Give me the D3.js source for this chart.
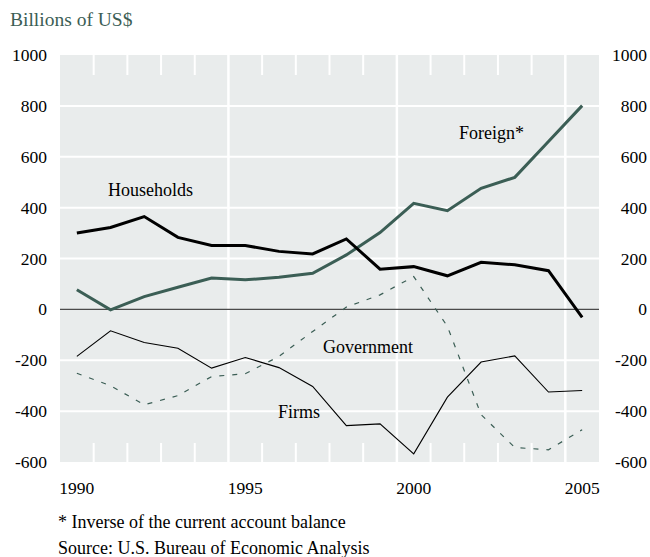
<!DOCTYPE html>
<html>
<head>
<meta charset="utf-8">
<script src="https://cdn.jsdelivr.net/npm/d3@7"></script>
<style>
	body { margin: 0; background: #fff; }
	svg text { font-family: "Liberation Serif", "Times New Roman", serif; }
</style>
</head>
<body>
<div id="chart"></div>
<script>
var years = [1990, 1991, 1992, 1993, 1994, 1995, 1996, 1997, 1998, 1999, 2000, 2001, 2002, 2003, 2004, 2005]
var households = [300, 322, 365, 283, 251, 251, 228, 218, 277, 158, 168, 132, 185, 175, 152, -31]
var foreign = [77, -2, 50, 87, 123, 116, 126, 142, 214, 302, 417, 388, 476, 519, 660, 801]
var firms = [-185, -84, -130, -153, -231, -189, -229, -303, -457, -450, -568, -345, -207, -183, -325, -319]
var government = [-251, -300, -375, -339, -264, -253, -185, -87, 9, 57, 129, -67, -414, -543, -552, -473]
var yTicks = [-600, -400, -200, 0, 200, 400, 600, 800, 1000]
var xLabels = [1990, 1995, 2000, 2005]
var gridYears = [1995, 2000, 2005]

var plot = { left: 60, right: 599, top: 55, bottom: 462 }
var green = '#3b5e55'

var xScale = d3.scaleLinear()
	.domain([1990, 2006])
	.range([plot.left, plot.right])

var yScale = d3.scaleLinear()
	.domain([-600, 1000])
	.range([plot.bottom, plot.top])

var svg = d3.select('#chart').append('svg')
	.attr('width', 650)
	.attr('height', 557)

svg.append('text')
	.attr('x', 10)
	.attr('y', 26)
	.attr('fill', green)
	.style('font-size', '19.5px')
	.text('Billions of US$')

svg.append('rect')
	.attr('x', plot.left)
	.attr('y', plot.top)
	.attr('width', plot.right - plot.left)
	.attr('height', plot.bottom - plot.top)
	.attr('fill', '#e9ecec')

// horizontal white grid (not at edges, not at zero)
svg.append('g').selectAll('line')
	.data(yTicks.filter(function(d) { return d != 0 && d != -600 && d != 1000 }))
	.enter().append('line')
		.attr('x1', plot.left)
		.attr('x2', plot.right)
		.attr('y1', function(d) { return yScale(d) })
		.attr('y2', function(d) { return yScale(d) })
		.attr('stroke', '#fff')
		.attr('stroke-width', 2)

// year ticks top and bottom, full lines every 5 years
var tickYears = d3.range(1991, 2006)
var ticks = svg.append('g')
ticks.selectAll('line.full')
	.data(gridYears)
	.enter().append('line')
		.attr('class', 'full')
		.attr('x1', function(d) { return xScale(d) })
		.attr('x2', function(d) { return xScale(d) })
		.attr('y1', plot.top)
		.attr('y2', plot.bottom)
		.attr('stroke', '#fff')
		.attr('stroke-width', 2.5)
ticks.selectAll('line.top')
	.data(tickYears.filter(function(d) { return gridYears.indexOf(d) < 0 }))
	.enter().append('line')
		.attr('class', 'top')
		.attr('x1', function(d) { return xScale(d) })
		.attr('x2', function(d) { return xScale(d) })
		.attr('y1', plot.top)
		.attr('y2', plot.top + 20)
		.attr('stroke', '#fff')
		.attr('stroke-width', 2)
ticks.selectAll('line.bot')
	.data(tickYears.filter(function(d) { return gridYears.indexOf(d) < 0 }))
	.enter().append('line')
		.attr('class', 'bot')
		.attr('x1', function(d) { return xScale(d) })
		.attr('x2', function(d) { return xScale(d) })
		.attr('y1', plot.bottom - 19)
		.attr('y2', plot.bottom)
		.attr('stroke', '#fff')
		.attr('stroke-width', 2)

svg.append('line')
	.attr('x1', plot.left)
	.attr('x2', plot.right)
	.attr('y1', yScale(0))
	.attr('y2', yScale(0))
	.attr('stroke', '#4a4a4a')
	.attr('stroke-width', 1.3)

// y labels on both sides
svg.append('g').selectAll('text')
	.data(yTicks)
	.enter().append('text')
		.attr('x', 47)
		.attr('y', function(d) { return yScale(d) + 6 })
		.attr('text-anchor', 'end')
		.style('font-size', '17.5px')
		.text(function(d) { return d })
svg.append('g').selectAll('text')
	.data(yTicks)
	.enter().append('text')
		.attr('x', 647)
		.attr('y', function(d) { return yScale(d) + 6 })
		.attr('text-anchor', 'end')
		.style('font-size', '17.5px')
		.text(function(d) { return d })

svg.append('g').selectAll('text')
	.data(xLabels)
	.enter().append('text')
		.attr('x', function(d) { return xScale(d + 0.5) })
		.attr('y', 494)
		.attr('text-anchor', 'middle')
		.style('font-size', '17.5px')
		.text(function(d) { return d })

function drawSeries(values, color, width, dash) {
	var line = d3.line()
		.x(function(d, i) { return xScale(years[i] + 0.5) })
		.y(function(d) { return yScale(d) })
	var path = svg.append('path')
		.datum(values)
		.attr('d', line)
		.attr('fill', 'none')
		.attr('stroke', color)
		.attr('stroke-width', width)
		.attr('stroke-linejoin', 'miter')
	if (dash) path.attr('stroke-dasharray', dash)
}

drawSeries(government, green, 1.2, '5,8')
drawSeries(firms, '#000', 1.1)
drawSeries(foreign, green, 3)
drawSeries(households, '#000', 3)

var labels = [
	{ text: 'Households', x: 108, y: 196 },
	{ text: 'Foreign*', x: 459, y: 139 },
	{ text: 'Government', x: 323, y: 353 },
	{ text: 'Firms', x: 278, y: 418 }
]
svg.append('g').selectAll('text')
	.data(labels)
	.enter().append('text')
		.attr('x', function(d) { return d.x })
		.attr('y', function(d) { return d.y })
		.style('font-size', '18px')
		.text(function(d) { return d.text })

svg.append('text')
	.attr('x', 58)
	.attr('y', 528)
	.style('font-size', '18px')
	.text('* Inverse of the current account balance')
svg.append('text')
	.attr('x', 58)
	.attr('y', 554)
	.style('font-size', '18px')
	.text('Source: U.S. Bureau of Economic Analysis')
</script>
</body>
</html>
